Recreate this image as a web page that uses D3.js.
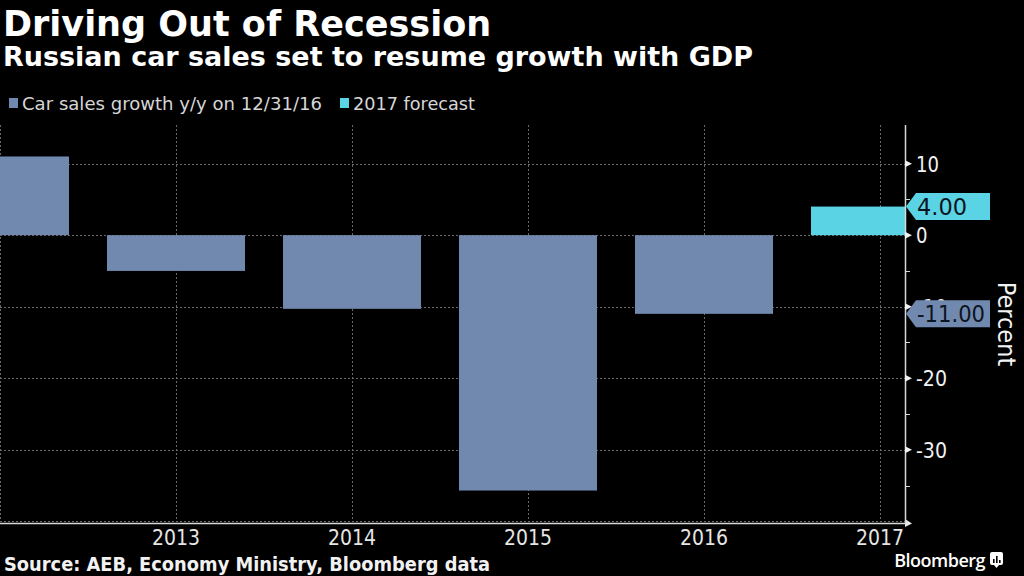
<!DOCTYPE html>
<html><head><meta charset="utf-8">
<script src="https://cdn.jsdelivr.net/npm/d3@7"></script>
<style>
html,body{margin:0;padding:0;background:#000;}
svg{display:block;}
.cond{font-family:'DejaVu Sans',sans-serif;font-stretch:condensed;}
</style></head>
<body>
<script>
const years = [2012, 2013, 2014, 2015, 2016];
const salesGrowth = [11, -5, -10.3, -35.7, -11];
const forecastYears = [2017];
const forecastValues = [4];
const xTicks = [2013, 2014, 2015, 2016, 2017];
const yTicks = [10, 0, -10, -20, -30];
const yMinorTicks = [5, -5, -15, -25, -35];
const legendLabels = ["Car sales growth y/y on 12/31/16", "2017 forecast"];
const title = "Driving Out of Recession";
const subtitle = "Russian car sales set to resume growth with GDP";
const source = "Source: AEB, Economy Ministry, Bloomberg data";

const W = 1024, H = 576;
const COL_SALES = "#7189ae", COL_FC = "#5ad4e4";
const wide = "'DejaVu Sans',Verdana,sans-serif";

const svg = d3.select("body").append("svg").attr("width", W).attr("height", H);
svg.append("rect").attr("width", W).attr("height", H).attr("fill", "#000");

const plotL = 0, plotR = 905, plotT = 125, plotB = 522;
const x = d3.scaleLinear().domain([2012, 2017]).range([0, 880]);
const y = d3.scaleLinear().domain([-40.1, 15.4]).range([plotB, plotT]);
const barW = 138;

// fit text to a target width (narrow fonts are not available by name)
function fitWidth(sel, target) {
  sel.each(function() {
    const w = this.getComputedTextLength();
    if (w > 0) d3.select(this).attr("textLength", target).attr("lengthAdjust", "spacingAndGlyphs");
  });
}

svg.append("clipPath").attr("id", "clip").append("rect")
  .attr("x", plotL).attr("y", plotT).attr("width", plotR - plotL).attr("height", plotB - plotT);

// gridlines
const grid = svg.append("g").attr("stroke", "#6a6a6a").attr("stroke-width", 1).attr("stroke-dasharray", "2,2");
grid.selectAll("line.h").data(yTicks.concat([-40])).enter().append("line")
  .attr("x1", plotL).attr("x2", plotR).attr("y1", d => Math.round(y(d)) + 0.5).attr("y2", d => Math.round(y(d)) + 0.5);
grid.selectAll("line.v").data([2012].concat(xTicks)).enter().append("line")
  .attr("y1", plotT).attr("y2", plotB).attr("x1", d => Math.round(x(d)) + 0.5).attr("x2", d => Math.round(x(d)) + 0.5);

// bars
const bars = svg.append("g").attr("clip-path", "url(#clip)");
bars.selectAll("rect.s").data(years.map((yr, i) => ({yr, v: salesGrowth[i]}))).enter().append("rect")
  .attr("x", d => x(d.yr) - barW / 2).attr("width", barW)
  .attr("y", d => y(Math.max(0, d.v))).attr("height", d => Math.abs(y(d.v) - y(0)))
  .attr("fill", COL_SALES);
bars.selectAll("rect.f").data(forecastYears.map((yr, i) => ({yr, v: forecastValues[i]}))).enter().append("rect")
  .attr("x", d => x(d.yr) - barW / 2).attr("width", barW)
  .attr("y", d => y(Math.max(0, d.v))).attr("height", d => Math.abs(y(d.v) - y(0)))
  .attr("fill", COL_FC);

// axes lines
svg.append("line").attr("x1", plotL).attr("x2", plotR).attr("y1", plotB + 1.5).attr("y2", plotB + 1.5)
  .attr("stroke", "#d8d8d8").attr("stroke-width", 1.5);
svg.append("path").attr("d", `M${plotR},${plotB - 3} L${plotR + 7},${plotB + 1.5} L${plotR},${plotB + 5} Z`).attr("fill", "#e8e8e8");
svg.append("line").attr("x1", plotR + 0.5).attr("x2", plotR + 0.5).attr("y1", plotT).attr("y2", plotB + 2)
  .attr("stroke", "#d8d8d8").attr("stroke-width", 1.5);

// y ticks
const yt = svg.append("g");
yt.selectAll("path.maj").data(yTicks).enter().append("path")
  .attr("d", d => `M${plotR},${y(d) - 3.5} L${plotR + 7},${y(d)} L${plotR},${y(d) + 3.5} Z`).attr("fill", "#f0f0f0");
yt.selectAll("line.min").data(yMinorTicks).enter().append("line")
  .attr("x1", plotR).attr("x2", plotR + 5).attr("y1", d => Math.round(y(d)) + 0.5).attr("y2", d => Math.round(y(d)) + 0.5)
  .attr("stroke", "#d8d8d8").attr("stroke-width", 1);
const ytl = yt.selectAll("text").data(yTicks).enter().append("text").attr("class", "cond")
  .attr("x", plotR + 11).attr("y", d => y(d) + 8)
  .attr("fill", "#f2f2f2").attr("font-size", 22)
  .text(d => String(d));
ytl.each(function(d) {
  const s = String(d);
  const target = (s.startsWith("-") ? 8 : 0) + (s.replace("-", "").length) * 11.5;
  d3.select(this).attr("textLength", target).attr("lengthAdjust", "spacingAndGlyphs");
});

// x tick labels
svg.append("g").selectAll("text").data(xTicks).enter().append("text").attr("class", "cond")
  .attr("x", d => x(d) - 24).attr("y", 545)
  .attr("fill", "#e6e6e6").attr("font-size", 21)
  .attr("textLength", 48).attr("lengthAdjust", "spacingAndGlyphs")
  .text(d => d);

// value tags
const lastSales = salesGrowth[salesGrowth.length - 1];
const tags = [{v: forecastValues[0], c: COL_FC}, {v: lastSales, c: COL_SALES}];
const tg = svg.append("g");
tags.forEach(t => {
  const yc = y(t.v), h = 13.5;
  tg.append("path").attr("d", `M${plotR + 1},${yc} L${plotR + 11},${yc - h} L990,${yc - h} L990,${yc + h} L${plotR + 11},${yc + h} Z`)
    .attr("fill", t.c);
  const s = d3.format(".2f")(t.v).replace("\u2212", "-");
  tg.append("text").attr("class", "cond").attr("x", s.startsWith("-") ? 917 : 917).attr("y", yc + 8.5)
    .attr("fill", "#0c1420").attr("font-size", 23)
    .attr("textLength", s.startsWith("-") ? 68 : 50).attr("lengthAdjust", "spacingAndGlyphs")
    .text(s);
});

// Percent label
svg.append("text").attr("class", "cond").attr("transform", "translate(998,324) rotate(90)").attr("text-anchor", "middle")
  .attr("fill", "#f2f2f2").attr("font-size", 25).text("Percent");

// titles
svg.append("text").attr("x", 3).attr("y", 36).attr("fill", "#fff").attr("font-family", wide)
  .attr("font-weight", "bold").attr("font-size", 35).text(title);
svg.append("text").attr("x", 3).attr("y", 66).attr("fill", "#fff").attr("font-family", wide)
  .attr("font-weight", "bold").attr("font-size", 26).attr("textLength", 750).attr("lengthAdjust", "spacingAndGlyphs").text(subtitle);

// legend
const lg = svg.append("g");
const legendX = [9, 340], legendW = [300, 122], legendCols = [COL_SALES, COL_FC];
legendLabels.forEach((l, i) => {
  lg.append("rect").attr("x", legendX[i]).attr("y", 98).attr("width", 9).attr("height", 10).attr("fill", legendCols[i]);
  lg.append("text").attr("x", legendX[i] + 13).attr("y", 110).attr("fill", "#d6d6d6").attr("font-family", wide)
    .attr("font-size", 18).attr("textLength", legendW[i]).attr("lengthAdjust", "spacingAndGlyphs").text(l);
});

// source
svg.append("text").attr("x", 4).attr("y", 571).attr("fill", "#f2f2f2").attr("font-family", wide)
  .attr("font-weight", "bold").attr("font-size", 19).attr("textLength", 486).attr("lengthAdjust", "spacingAndGlyphs").text(source);

// Bloomberg logo
svg.append("text").attr("x", 985).attr("y", 567).attr("text-anchor", "end").attr("fill", "#fff")
  .attr("font-family", "'Open Sans','DejaVu Sans',sans-serif").attr("font-weight", 600).attr("font-size", 18).attr("letter-spacing", -0.5).text("Bloomberg");
const ic = svg.append("g").attr("transform", "translate(990,552)");
ic.append("rect").attr("width", 13).attr("height", 13).attr("rx", 2).attr("fill", "#fff");
ic.append("path").attr("d", "M4,13 L6.5,16 L9,13 Z").attr("fill", "#fff");
[[3, 7], [6, 4], [9, 8]].forEach(([bx, by]) => ic.append("rect").attr("x", bx).attr("y", by).attr("width", 1.6).attr("height", 11 - by).attr("fill", "#000"));
</script>
</body></html>
